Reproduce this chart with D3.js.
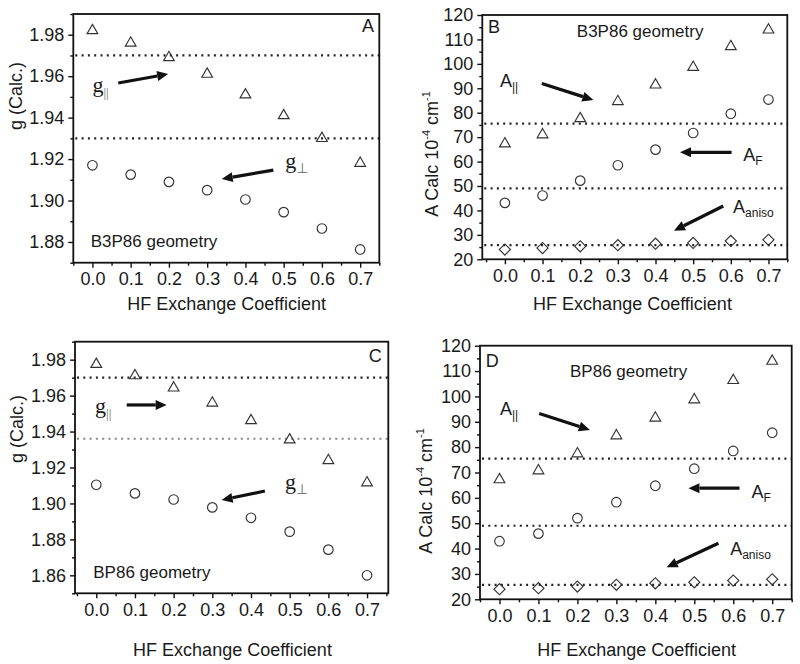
<!DOCTYPE html>
<html><head><meta charset="utf-8">
<script src="https://cdn.jsdelivr.net/npm/d3@7"></script>
<style>
body{margin:0;background:#fff}
svg{display:block}
text{font-family:"Liberation Sans",Arial,sans-serif;fill:#1a1a1a}
</style>
</head><body>
<svg id="c" width="800" height="664"></svg>
<script>
// ---------- data ----------
const hfCoef = [0, 0.1, 0.2, 0.3, 0.4, 0.5, 0.6, 0.7];
const xTickLabels = ["0.0", "0.1", "0.2", "0.3", "0.4", "0.5", "0.6", "0.7"];

// Panel A (B3P86 geometry, g values)
const gParA  = [1.982, 1.976, 1.969, 1.961, 1.951, 1.941, 1.930, 1.918];
const gPerpA = [1.917, 1.9125, 1.909, 1.905, 1.9005, 1.8944, 1.8865, 1.8764];
const gRefA  = [1.97, 1.93];
const gTicksA = ["1.88", "1.90", "1.92", "1.94", "1.96", "1.98"];

// Panel B (B3P86 geometry, A values)
const aParB   = [67.3, 71.0, 77.6, 84.6, 91.4, 98.6, 107.1, 113.9];
const aFB     = [43.1, 46.1, 52.2, 58.5, 64.9, 71.7, 79.6, 85.4];
const aAnisoB = [24.0, 24.6, 25.3, 25.8, 26.4, 26.7, 27.5, 28.0];
const aRefB   = [75.5, 49.0, 25.8];
const aTicks  = ["20", "30", "40", "50", "60", "70", "80", "90", "100", "110", "120"];

// Panel C (BP86 geometry, g values)
const gParC  = [1.9774, 1.9711, 1.9643, 1.9559, 1.9461, 1.9354, 1.9239, 1.9115];
const gPerpC = [1.9104, 1.9056, 1.9022, 1.8978, 1.892, 1.8843, 1.8743, 1.860];
const gRefC  = [1.97, 1.936];
const gTicksC = ["1.86", "1.88", "1.90", "1.92", "1.94", "1.96", "1.98"];

// Panel D (BP86 geometry, A values)
const aParD   = [67.2, 70.7, 77.4, 84.5, 91.5, 98.7, 106.3, 113.9];
const aFD     = [42.9, 45.9, 52.0, 58.3, 64.8, 71.5, 78.5, 85.7];
const aAnisoD = [24.0, 24.4, 25.0, 25.7, 26.3, 26.7, 27.4, 27.9];
const aRefD   = [75.5, 49.0, 25.7];

// ---------- drawing ----------
const svg = d3.select("#c");
const xMinor = d3.range(-0.05, 0.76, 0.05).map(v => +v.toFixed(3));

function arrow(g, x, y, a) {
  const x1 = x(a[0]), y1 = y(a[1]), x2 = x(a[2]), y2 = y(a[3]);
  const ang = Math.atan2(y2 - y1, x2 - x1);
  const hl = 11, hw = 5;
  const bx = x2 - hl * Math.cos(ang), by = y2 - hl * Math.sin(ang);
  g.append("line").attr("x1", x1).attr("y1", y1).attr("x2", bx).attr("y2", by)
    .attr("stroke", "#111").attr("stroke-width", 3.2);
  const px = -Math.sin(ang) * hw, py = Math.cos(ang) * hw;
  g.append("path").attr("d", `M${x2},${y2}L${bx + px},${by + py}L${bx - px},${by - py}Z`).attr("fill", "#111");
}

function label(g, x, y, pos, main, sub, opts) {
  const t = g.append("text").attr("x", x(pos[0])).attr("y", y(pos[1]))
    .attr("font-size", opts.size).style("font-family", opts.family);
  t.append("tspan").text(main);
  if (sub) {
    t.append("tspan").attr("dy", opts.subDy).attr("font-size", opts.subSize)
      .style("fill", opts.subFill || "#1a1a1a").style("font-family", opts.subFamily || opts.family).text(sub);
  }
}

function panel(cfg) {
  const x = d3.scaleLinear().domain(cfg.xDomain).range([cfg.left, cfg.right]);
  const y = d3.scaleLinear().domain(cfg.yDomain).range([cfg.bottom, cfg.top]);
  const g = svg.append("g");

  // reference dotted lines
  cfg.refs.forEach((r, i) => {
    g.append("line").attr("x1", x(cfg.xDomain[0]) + 2).attr("x2", x(cfg.xDomain[1]))
      .attr("y1", y(r)).attr("y2", y(r))
      .attr("stroke", (cfg.refColors && cfg.refColors[i]) || "#222")
      .attr("stroke-width", 2.2).attr("stroke-dasharray", "2,4.3");
  });

  // axes
  g.append("g").attr("transform", `translate(0,${cfg.bottom})`)
    .call(d3.axisBottom(x).tickValues(hfCoef).tickFormat((d, i) => xTickLabels[i]).tickSize(5).tickPadding(5));
  g.append("g").attr("transform", `translate(0,${cfg.bottom})`)
    .call(d3.axisBottom(x).tickValues(xMinor.filter(v => Math.round(v * 100) % 10 !== 0)).tickSize(3).tickFormat(""));
  const yVals = cfg.yTicks.map(Number);
  g.append("g").attr("transform", `translate(${cfg.left},0)`)
    .call(d3.axisLeft(y).tickValues(yVals).tickFormat((d, i) => cfg.yTicks[i]).tickSize(5).tickPadding(4));
  g.append("g").attr("transform", `translate(${cfg.left},0)`)
    .call(d3.axisLeft(y).tickValues(cfg.yMinor).tickSize(3).tickFormat(""));
  g.selectAll(".domain").remove();
  g.selectAll(".tick line").attr("stroke", "#111").attr("stroke-width", 1.4);
  g.selectAll(".tick text").attr("font-size", 18).style("font-family", '"Liberation Sans",Arial,sans-serif').attr("fill", "#1a1a1a");

  // frame
  g.append("rect").attr("x", cfg.left).attr("y", cfg.top)
    .attr("width", cfg.right - cfg.left).attr("height", cfg.bottom - cfg.top)
    .attr("fill", "none").attr("stroke", "#111").attr("stroke-width", 1.8);

  // series
  cfg.series.forEach(s => {
    const sym = d3.symbol().type(s.type).size(s.size);
    g.selectAll(null).data(s.values).enter().append("path")
      .attr("d", sym())
      .attr("transform", (d, i) => `translate(${x(hfCoef[i])},${y(d)})${s.rotate ? " rotate(45)" : ""}`)
      .attr("fill", "none").attr("stroke", "#333").attr("stroke-width", 1.15);
  });

  // axis titles
  g.append("text").attr("x", cfg.xTitle[0]).attr("y", cfg.xTitle[1]).attr("text-anchor", "middle")
    .attr("font-size", 18).text("HF Exchange Coefficient");
  const yt = g.append("text").attr("transform", `translate(${cfg.yTitle[0]},${cfg.yTitle[1]}) rotate(-90)`)
    .attr("text-anchor", "middle").attr("font-size", 18);
  cfg.yTitleParts.forEach(p => {
    const ts = yt.append("tspan").text(p.t);
    if (p.sup) ts.attr("font-size", 11).attr("dy", -8);
    if (p.back) ts.attr("dy", 8);
  });

  // annotations
  cfg.texts.forEach(t => {
    g.append("text").attr("x", x(t.pos[0])).attr("y", y(t.pos[1]))
      .attr("text-anchor", t.anchor || "start").attr("font-size", t.size || 17).text(t.text);
  });
  cfg.labels.forEach(l => label(g, x, y, l.pos, l.main, l.sub, l.opts));
  cfg.arrows.forEach(a => arrow(g, x, y, a));
}

const gParOpts  = {size: 22, family: '"Liberation Serif","Times New Roman",serif', subSize: 13, subDy: 5, subFill: "#666"};
const gPerpOpts = {size: 22, family: '"Liberation Serif","Times New Roman",serif', subSize: 14, subDy: 5, subFill: "#666", subFamily: '"DejaVu Sans",sans-serif'};
const aOpts     = {size: 18, family: '"Liberation Sans",Arial,sans-serif', subSize: 12, subDy: 4};
const gTitle = [{t: "g (Calc.)"}];
const aTitle = [{t: "A Calc 10"}, {t: "-4", sup: true}, {t: " cm", back: true}, {t: "-1", sup: true}];

panel({
  left: 73.3, right: 379.3, top: 14, bottom: 262.7,
  xDomain: [-0.05, 0.75], yDomain: [1.87, 1.99],
  yTicks: gTicksA, yMinor: [1.87, 1.89, 1.91, 1.93, 1.95, 1.97, 1.99],
  refs: gRefA,
  series: [
    {values: gParA, type: d3.symbolTriangle, size: 50},
    {values: gPerpA, type: d3.symbolCircle, size: 72}
  ],
  xTitle: [226.7, 310], yTitle: [22, 96], yTitleParts: gTitle,
  texts: [
    {text: "A", pos: [0.736, 1.9813], anchor: "end", size: 18},
    {text: "B3P86 geometry", pos: [-0.0045, 1.8776]}
  ],
  labels: [
    {main: "g", sub: "||", pos: [0.0, 1.9524], opts: gParOpts},
    {main: "g", sub: "\u22A5", pos: [0.504, 1.9157], opts: gPerpOpts}
  ],
  arrows: [[0.0676, 1.9567, 0.198, 1.9610], [0.473, 1.9147, 0.338, 1.9104]]
});

panel({
  left: 482.3, right: 787.3, top: 15, bottom: 259.3,
  xDomain: [-0.06, 0.75], yDomain: [20, 120],
  yTicks: aTicks, yMinor: d3.range(25, 120, 10),
  refs: aRefB,
  series: [
    {values: aParB, type: d3.symbolTriangle, size: 50},
    {values: aFB, type: d3.symbolCircle, size: 72},
    {values: aAnisoB, type: d3.symbolSquare, size: 62, rotate: true}
  ],
  xTitle: [632.5, 310], yTitle: [438, 154], yTitleParts: aTitle,
  texts: [
    {text: "B", pos: [-0.045, 112.6], size: 18},
    {text: "B3P86 geometry", pos: [0.191, 111]}
  ],
  labels: [
    {main: "A", sub: "||", pos: [-0.013, 90.4], opts: aOpts},
    {main: "A", sub: "F", pos: [0.633, 60.4], opts: aOpts},
    {main: "A", sub: "aniso", pos: [0.606, 38.8], opts: aOpts}
  ],
  arrows: [[0.098, 92.0, 0.235, 85.2], [0.602, 63.8, 0.465, 63.8], [0.580, 41.8, 0.449, 31.7]]
});

panel({
  left: 75, right: 388.3, top: 341.7, bottom: 593.3,
  xDomain: [-0.055, 0.755], yDomain: [1.85, 1.99],
  yTicks: gTicksC, yMinor: [1.85, 1.87, 1.89, 1.91, 1.93, 1.95, 1.97, 1.99],
  refs: gRefC, refColors: ["#222", "#888"],
  series: [
    {values: gParC, type: d3.symbolTriangle, size: 50},
    {values: gPerpC, type: d3.symbolCircle, size: 72}
  ],
  xTitle: [232.5, 656], yTitle: [23, 429], yTitleParts: gTitle,
  texts: [
    {text: "C", pos: [0.738, 1.9787], anchor: "end", size: 18},
    {text: "BP86 geometry", pos: [-0.0077, 1.8585]}
  ],
  labels: [
    {main: "g", sub: "||", pos: [-0.003, 1.9503], opts: gParOpts},
    {main: "g", sub: "\u22A5", pos: [0.488, 1.908], opts: gPerpOpts}
  ],
  arrows: [[0.0787, 1.9548, 0.182, 1.9548], [0.436, 1.9069, 0.324, 1.9019]]
});

panel({
  left: 480, right: 791.7, top: 345.7, bottom: 599.3,
  xDomain: [-0.05, 0.75], yDomain: [20, 120],
  yTicks: aTicks, yMinor: d3.range(25, 120, 10),
  refs: aRefD,
  series: [
    {values: aParD, type: d3.symbolTriangle, size: 50},
    {values: aFD, type: d3.symbolCircle, size: 72},
    {values: aAnisoD, type: d3.symbolSquare, size: 62, rotate: true}
  ],
  xTitle: [636.7, 656], yTitle: [431.5, 491], yTitleParts: aTitle,
  texts: [
    {text: "D", pos: [-0.035, 111.6], size: 18},
    {text: "BP86 geometry", pos: [0.181, 107.7]}
  ],
  labels: [
    {main: "A", sub: "||", pos: [0.0013, 92.7], opts: aOpts},
    {main: "A", sub: "F", pos: [0.647, 59.9], opts: aOpts},
    {main: "A", sub: "aniso", pos: [0.592, 37.5], opts: aOpts}
  ],
  arrows: [[0.102, 93.3, 0.232, 86.8], [0.616, 63.8, 0.485, 63.8], [0.562, 42.1, 0.429, 32.6]]
});
</script>
</body></html>
